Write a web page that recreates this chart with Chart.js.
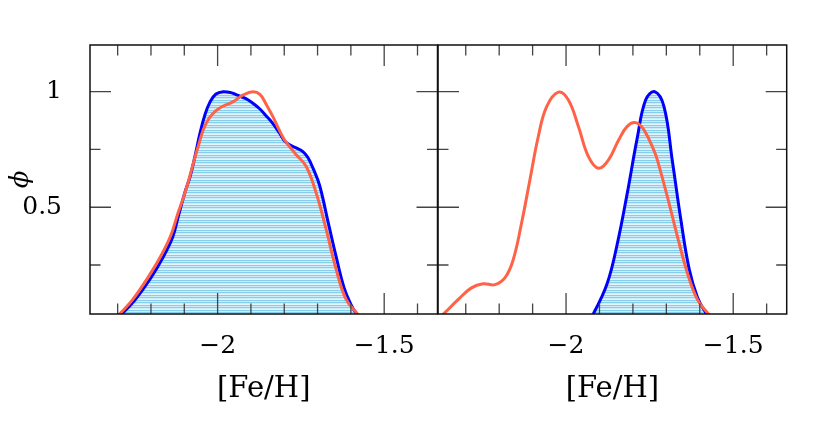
<!DOCTYPE html>
<html>
<head>
<meta charset="utf-8">
<script src="https://cdn.jsdelivr.net/npm/chart.js@4"></script>
<style>
  body { margin: 0; background: #fff; }
  #wrap { position: relative; width: 830px; height: 446px; }
  canvas { position: absolute; left: 0; top: 0; }
</style>
</head>
<body>
<div id="wrap">
  <canvas id="left" width="830" height="446" style="width:830px;height:446px"></canvas>
  <canvas id="right" width="830" height="446" style="width:830px;height:446px"></canvas>
</div>
<script>
// axis ranges and ticks
const xMin = -2.383, xMax = -1.340;
const yMin = 0.038, yMax = 1.202;
const xLabels = [-2, -1.5];
const xMinor = [-2.3, -2.2, -2.1, -1.9, -1.8, -1.7, -1.6, -1.4];
const yLabels = [0.5, 1];
const yMinor = [0.25, 0.75];

// left panel
const leftBlueX = [-2.32, -2.29, -2.25, -2.20, -2.165, -2.135, -2.118, -2.098, -2.083, -2.068, -2.053, -2.038, -2.023, -2.005, -1.983, -1.960, -1.943, -1.915, -1.894, -1.873, -1.854, -1.834, -1.814, -1.799, -1.784, -1.764, -1.744, -1.729, -1.714, -1.694, -1.669, -1.644, -1.620, -1.600, -1.585, -1.56];
const leftBlueY = [0, 0.035, 0.095, 0.195, 0.28, 0.37, 0.46, 0.565, 0.63, 0.72, 0.82, 0.90, 0.955, 0.99, 1.0, 0.996, 0.986, 0.97, 0.95, 0.925, 0.895, 0.862, 0.82, 0.787, 0.77, 0.757, 0.741, 0.715, 0.67, 0.595, 0.44, 0.285, 0.15, 0.08, 0.043, 0];
const leftRedX = [-2.32, -2.293, -2.255, -2.205, -2.17, -2.14, -2.12, -2.103, -2.088, -2.073, -2.058, -2.043, -2.028, -2.013, -1.998, -1.983, -1.953, -1.923, -1.894, -1.873, -1.854, -1.834, -1.817, -1.799, -1.780, -1.764, -1.734, -1.704, -1.674, -1.644, -1.614, -1.580, -1.56];
const leftRedY = [0, 0.04, 0.10, 0.205, 0.29, 0.38, 0.47, 0.54, 0.61, 0.69, 0.765, 0.835, 0.88, 0.907, 0.925, 0.938, 0.957, 0.986, 1.0, 0.988, 0.945, 0.892, 0.84, 0.791, 0.755, 0.727, 0.676, 0.561, 0.403, 0.23, 0.10, 0.038, 0];

// right panel
const rightBlueX = [-1.94, -1.917, -1.877, -1.847, -1.817, -1.787, -1.762, -1.735, -1.707, -1.682, -1.657, -1.632, -1.607, -1.582, -1.56];
const rightBlueY = [0, 0.043, 0.17, 0.34, 0.56, 0.80, 0.964, 1.0, 0.935, 0.70, 0.45, 0.235, 0.11, 0.043, 0];
const rightRedX = [-2.39, -2.363, -2.323, -2.283, -2.248, -2.213, -2.183, -2.158, -2.133, -2.108, -2.083, -2.058, -2.023, -1.993, -1.963, -1.933, -1.903, -1.873, -1.843, -1.817, -1.792, -1.767, -1.737, -1.727, -1.697, -1.667, -1.637, -1.607, -1.577, -1.55];
const rightRedY = [0.005, 0.043, 0.10, 0.151, 0.169, 0.165, 0.194, 0.273, 0.432, 0.619, 0.806, 0.935, 0.998, 0.964, 0.849, 0.719, 0.669, 0.705, 0.79, 0.85, 0.866, 0.835, 0.745, 0.705, 0.546, 0.374, 0.215, 0.10, 0.043, 0];

const toPts = (xs, ys) => xs.map((x, i) => ({ x: x, y: ys[i] }));

// horizontal line shading
const hc = document.createElement('canvas');
hc.width = 4; hc.height = 5;
const hctx = hc.getContext('2d');
const rows = ['rgb(135,206,235)', 'rgb(205,235,248)', 'rgb(135,206,235)', 'rgb(205,235,248)', 'rgb(228,244,251)'];
rows.forEach((c, i) => { hctx.fillStyle = c; hctx.fillRect(0, i, 4, 1); });
const hatch = hctx.createPattern(hc, 'repeat');

const serif = 'DejaVu Serif';

// frame with inward ticks on all sides
const framePlugin = {
  id: 'frame',
  afterDatasetsDraw(chart) {
    const { ctx, chartArea: a, scales } = chart;
    const xs = scales.x, ys = scales.y;
    ctx.save();
    ctx.strokeStyle = '#444';
    ctx.lineWidth = 1.3;
    ctx.beginPath();
    const xt = (v, len) => {
      const p = xs.getPixelForValue(v);
      ctx.moveTo(p, a.bottom); ctx.lineTo(p, a.bottom - len);
      ctx.moveTo(p, a.top); ctx.lineTo(p, a.top + len);
    };
    const yt = (v, len) => {
      const p = ys.getPixelForValue(v);
      ctx.moveTo(a.left, p); ctx.lineTo(a.left + len, p);
      ctx.moveTo(a.right, p); ctx.lineTo(a.right - len, p);
    };
    xLabels.forEach(v => xt(v, 21));
    xMinor.forEach(v => xt(v, 10.5));
    yLabels.forEach(v => yt(v, 21));
    yMinor.forEach(v => yt(v, 10.5));
    ctx.stroke();
    ctx.strokeStyle = '#111';
    ctx.lineWidth = 1.5;
    ctx.strokeRect(a.left, a.top, a.right - a.left, a.bottom - a.top);
    ctx.restore();
  }
};

function makePanel(id, blue, red, padLeft, padRight, showY) {
  return new Chart(document.getElementById(id), {
    type: 'line',
    data: {
      datasets: [
        { data: red, borderColor: '#ff6347', borderWidth: 3, pointRadius: 0, tension: 0.4, fill: false, clip: 0 },
        { data: blue, borderColor: '#0000ff', borderWidth: 3, pointRadius: 0, tension: 0.4, fill: 'start', backgroundColor: hatch, clip: 0 }
      ]
    },
    options: {
      responsive: false,
      animation: false,
      layout: { padding: { left: padLeft, right: padRight, top: 45, bottom: 0 } },
      plugins: { legend: { display: false }, tooltip: { enabled: false } },
      scales: {
        x: {
          type: 'linear', min: xMin, max: xMax,
          grid: { display: false }, border: { display: false },
          afterFit: s => { s.height = 132; },
          afterBuildTicks: s => { s.ticks = xLabels.map(v => ({ value: v })); },
          ticks: {
            padding: 9, color: '#000', maxRotation: 0, autoSkip: false,
            font: { family: serif, size: 25 },
            callback: v => String(v).replace('-', '\u2212')
          },
          title: {
            display: true, text: '[Fe/H]', color: '#000',
            font: { family: serif, size: 29 }, padding: { top: 0, bottom: 39 }
          }
        },
        y: {
          type: 'linear', min: yMin, max: yMax, display: showY,
          grid: { display: false }, border: { display: false },
          afterFit: s => { s.width = showY ? 90 : 0; },
          afterBuildTicks: s => { s.ticks = yLabels.map(v => ({ value: v })); },
          ticks: { padding: 20, color: '#000', font: { family: serif, size: 25 }, callback: v => String(v) },
          title: {
            display: true, text: '\u03d5', color: '#000',
            font: { family: serif, size: 26, style: 'italic' }, padding: { top: 6, bottom: 0 }
          }
        }
      }
    },
    plugins: [framePlugin]
  });
}

makePanel('left', toPts(leftBlueX, leftBlueY), toPts(leftRedX, leftRedY), 0, 392.5, true);
makePanel('right', toPts(rightBlueX, rightBlueY), toPts(rightRedX, rightRedY), 438, 43.3, false);
</script>
</body>
</html>
